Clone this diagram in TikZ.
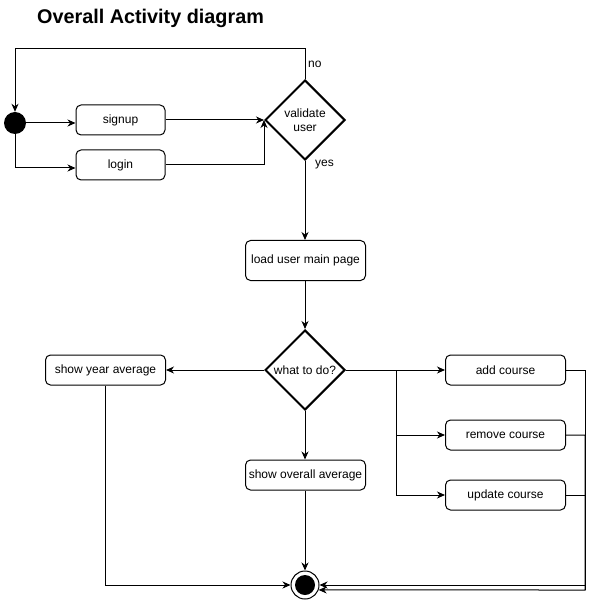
\documentclass[tikz,border=0pt]{standalone}
\usepackage{fontspec}
\setmainfont{Liberation Sans}
\usetikzlibrary{shapes.geometric,arrows.meta}

\begin{document}
\begin{tikzpicture}[x=1pt,y=-1pt,
  every node/.style={font=\fontsize{12}{14}\selectfont},
  box/.style={draw, rounded corners=5pt, line width=1pt, minimum width=120pt,
              minimum height=30pt, inner sep=0pt},
  smallbox/.style={box, minimum width=89pt},
  decision/.style={draw, diamond, line width=2pt, minimum width=80pt,
                   minimum height=80pt, inner sep=0pt, align=center},
  startdot/.style={circle, fill=black, minimum size=22pt, inner sep=0pt},
  enddot/.style={circle, draw, line width=1pt, minimum size=28pt, inner sep=0pt,
                 path picture={\fill (path picture bounding box.center) circle (10pt);}},
  flow/.style={line width=1pt, -{Stealth[length=8pt,width=7pt,inset=2.5pt]}},
  plain/.style={line width=1pt},
  lbl/.style={inner sep=0pt, anchor=west}
]
\useasboundingbox[fill=white] (0,0) rectangle (594,601);

% title
\node[anchor=base west, inner sep=0pt, font=\fontsize{19.8}{24}\bfseries\selectfont]
  (title) at (37,24) {Overall Activity diagram};

% login stage
\node[startdot] (start) at (15,123) {};
\node[smallbox] (signup) at (120.5,120) {signup};
\node[smallbox] (login) at (120.5,165) {login};
\node[decision] (validate) at (305,120) {validate\\user};

% main page and choices
\node[box, minimum height=40pt] (main) at (305.5,260.5) {load user main page};
\node[decision] (todo) at (305,370) {what to do?};
\node[box] (year) at (105.5,370) {show year average};
\node[box] (overall) at (305.5,475) {show overall average};
\node[box] (add) at (505.5,370) {add course};
\node[box] (remove) at (505.5,435) {remove course};
\node[box] (update) at (505.5,495) {update course};

% final state
\node[enddot] (finish) at (305,585) {};

% routing points
\coordinate (split) at (396,370);
\coordinate (rail) at (585,585);
\coordinate (railb) at (585,590);

% connectors
\draw[flow] (start) -- (signup.west |- start);
\draw[flow] (start.south) |- (login.west |- 0,168);
\draw[flow] (signup) -- (validate.west);
\draw[flow] (login.east) -| (validate.west);
\draw[flow] (validate.north) -- ++(0,-30) -| (start.north);
\node[lbl] (nolbl) at (308,64) {no};
\node[lbl] (yeslbl) at (315,165) {yes};
\draw[flow] (validate.south) -- (main.north -| validate.south);
\draw[flow] (main.south -| todo.north) -- (todo.north);
\draw[flow] (todo.west) -- (year.east);
\draw[flow] (todo.south) -- (overall.north -| todo.south);
\draw[plain] (todo.east) -- (split);
\draw[flow] (split) -- (add.west);
\draw[flow] (split) |- (remove.west);
\draw[flow] (split) |- (update.west);
\draw[flow] (add.east) -| (rail) -- (finish.east);
\draw[flow] (remove.east) -| (railb) -- (finish.-20);
\draw[plain] (update.east) -| (railb);
\draw[flow] (year.south) |- (finish.west);
\draw[flow] (overall.south -| finish.north) -- (finish.north);
\end{tikzpicture}
\end{document}
